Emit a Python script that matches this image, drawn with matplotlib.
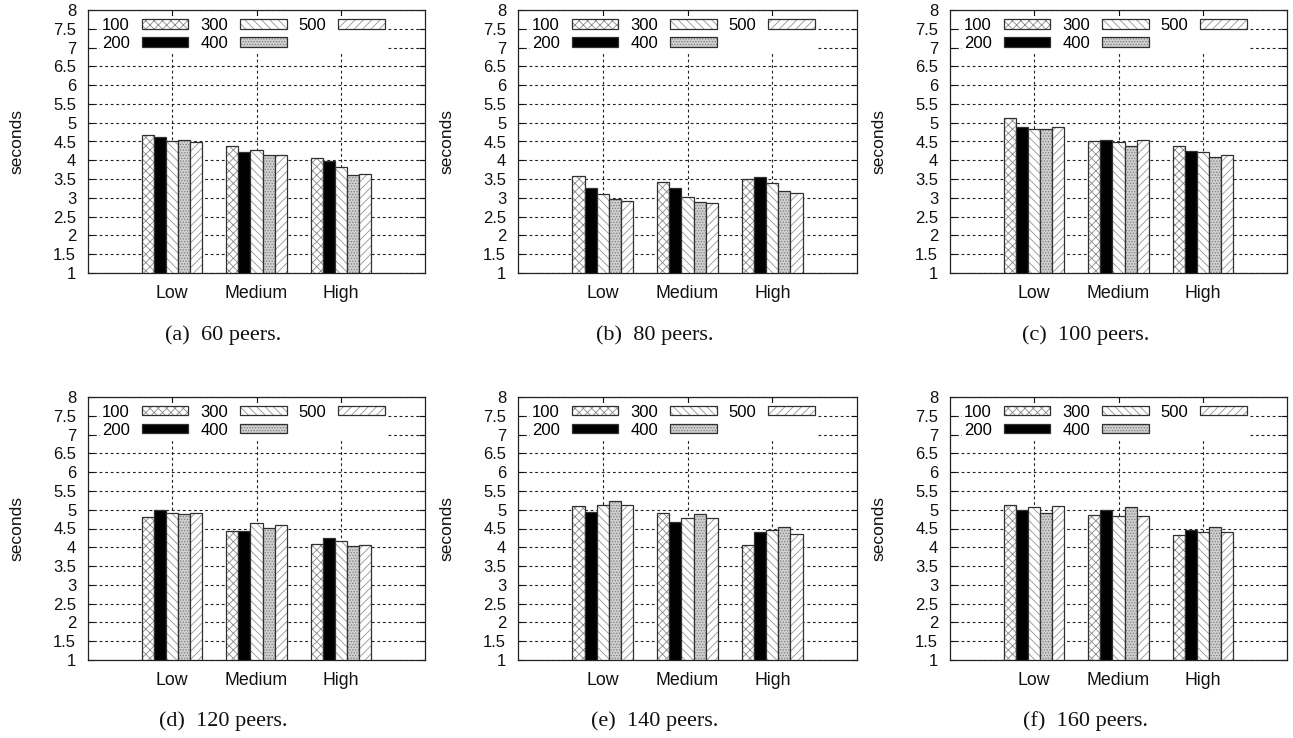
import numpy as np
import matplotlib
matplotlib.use("Agg")
import matplotlib.pyplot as plt
import matplotlib.patches as mpatches
from matplotlib.legend_handler import HandlerTuple

plt.rcParams['font.family'] = ['Liberation Sans', 'DejaVu Sans']
plt.rcParams['hatch.linewidth'] = 0.6

# ---------------- data ----------------
categories = ['Low', 'Medium', 'High']
series = ['100', '200', '300', '400', '500']
captions = ['(a)  60 peers.', '(b)  80 peers.', '(c)  100 peers.',
            '(d)  120 peers.', '(e)  140 peers.', '(f)  160 peers.']
yticks = [1, 1.5, 2, 2.5, 3, 3.5, 4, 4.5, 5, 5.5, 6, 6.5, 7, 7.5, 8]
ytick_labels = ['1', '1.5', '2', '2.5', '3', '3.5', '4', '4.5', '5',
                '5.5', '6', '6.5', '7', '7.5', '8']

# rows: series 100..500, columns: Low, Medium, High
peers_60 = [[4.68, 4.39, 4.07],
            [4.62, 4.22, 3.99],
            [4.52, 4.28, 3.82],
            [4.55, 4.13, 3.61],
            [4.49, 4.15, 3.64]]
peers_80 = [[3.58, 3.42, 3.51],
            [3.27, 3.25, 3.55],
            [3.10, 3.02, 3.40],
            [2.97, 2.88, 3.18],
            [2.91, 2.87, 3.12]]
peers_100 = [[5.13, 4.52, 4.37],
             [4.89, 4.55, 4.25],
             [4.82, 4.49, 4.22],
             [4.84, 4.37, 4.10],
             [4.89, 4.53, 4.13]]
peers_120 = [[4.80, 4.43, 4.09],
             [5.00, 4.43, 4.25],
             [4.91, 4.65, 4.17],
             [4.88, 4.51, 4.03],
             [4.91, 4.58, 4.06]]
peers_140 = [[5.09, 4.91, 4.05],
             [4.95, 4.67, 4.40],
             [5.13, 4.79, 4.46],
             [5.22, 4.88, 4.54],
             [5.13, 4.79, 4.36]]
peers_160 = [[5.13, 4.85, 4.33],
             [5.00, 5.00, 4.46],
             [5.06, 4.82, 4.42],
             [4.91, 5.06, 4.55],
             [5.09, 4.82, 4.42]]
panels = [peers_60, peers_80, peers_100, peers_120, peers_140, peers_160]

# ---------------- style ----------------
faces = ['white', 'black', 'white', '#cfcfcf', 'white']
hatches = ['xxxx', None, '\\\\\\\\', '......', '////']
hatch_cols = ['#8a8a8a', 'black', '#949494', '#808080', '#949494']
outline = '#303030'

W, H = 1293, 738
fig = plt.figure(figsize=(W / 100, H / 100), dpi=100)

# axes boxes in pixels: (left, top, right, bottom)
boxes = [(88, 10, 425, 273), (518, 10, 857, 273), (950, 10, 1287, 273),
         (88, 397, 425, 660), (518, 397, 857, 660), (950, 397, 1287, 660)]
cap_y = [335, 335, 335, 721, 721, 721]

bw = 1.0 / 7
x = np.arange(len(categories))

for k, (data, box) in enumerate(zip(panels, boxes)):
    l, t, r, b = box
    ax = fig.add_axes([l / W, 1 - b / H, (r - l) / W, (b - t) / H])
    ax.set_axisbelow(True)
    handles = []
    for i, name in enumerate(series):
        pos = x + (i - 2) * bw
        ax.bar(pos, data[i], width=bw, bottom=0, color=faces[i],
               hatch=hatches[i], edgecolor=hatch_cols[i], linewidth=0)
        ax.bar(pos, data[i], width=bw, bottom=0, fill=False,
               edgecolor=outline, linewidth=0.9)
        h1 = mpatches.Patch(facecolor=faces[i], hatch=hatches[i],
                            edgecolor=hatch_cols[i], linewidth=0)
        h2 = mpatches.Patch(fill=False, edgecolor=outline, linewidth=0.9)
        handles.append((h1, h2))
    ax.set_xlim(-1, 3)
    ax.set_ylim(1, 8)
    ax.set_yticks(yticks)
    ax.set_yticklabels(ytick_labels)
    ax.set_xticks(x)
    ax.set_xticklabels(categories)
    ax.tick_params(axis='y', direction='in', length=4, width=0.8,
                   right=True, labelsize=12, pad=8.5, colors='#111111')
    ax.tick_params(axis='x', direction='in', length=4, width=0.8,
                   top=True, labelsize=12.8, pad=8.5, colors='#111111')
    ax.grid(True, color='#222222', linestyle=(0, (2.5, 2.5)), linewidth=0.8)
    for sp in ax.spines.values():
        sp.set_color('#222222')
        sp.set_linewidth(0.9)
    ax.set_ylabel('seconds', fontsize=12.5, color='#111111', va='center')
    ax.yaxis.set_label_coords(-71.0 / (r - l), 0.5)
    leg = ax.legend(handles, series, ncol=3, loc='upper left',
                    bbox_to_anchor=(6.0 / (r - l), 1.0), markerfirst=False,
                    fontsize=12, handlelength=2.8, handleheight=0.5,
                    handletextpad=0.72, columnspacing=0.72, labelspacing=0.18,
                    borderpad=0.1, borderaxespad=0.36, frameon=True,
                    fancybox=False, framealpha=1.0,
                    handler_map={tuple: HandlerTuple(ndivide=1)})
    leg.get_frame().set_facecolor('white')
    leg.get_frame().set_edgecolor('none')
    fig.text((l + r) / 2 / W - 33 / W, 1 - cap_y[k] / H, captions[k],
             ha='center', va='center', fontsize=16,
             family=['Liberation Serif', 'DejaVu Serif'], color='#111111')

fig.savefig('out.png', dpi=100)
